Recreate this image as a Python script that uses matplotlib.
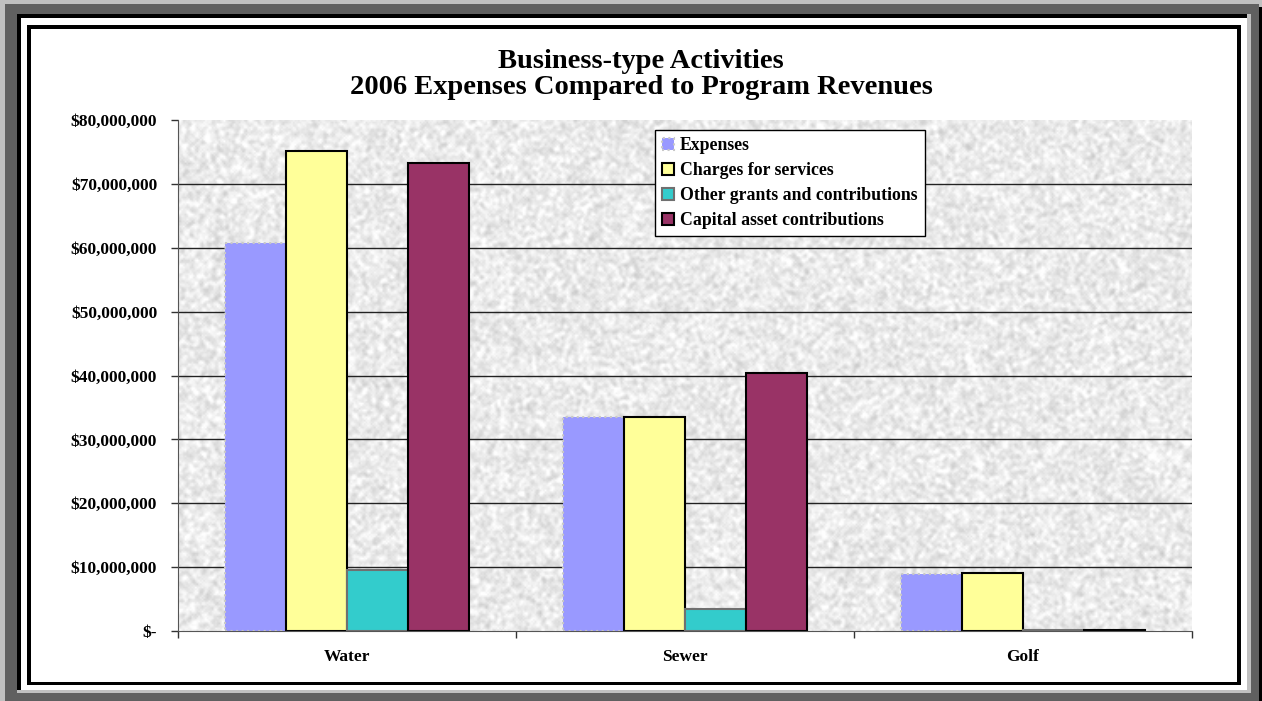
import numpy as np
import matplotlib
matplotlib.use("Agg")
import matplotlib.pyplot as plt
from matplotlib.patches import Rectangle, Patch
from matplotlib.ticker import FuncFormatter

# ---- data -------------------------------------------------------------
categories = ["Water", "Sewer", "Golf"]
series_names = ["Expenses", "Charges for services",
                "Other grants and contributions", "Capital asset contributions"]
expenses = [60.8e6, 33.5e6, 9.0e6]
charges_for_services = [75.1e6, 33.5e6, 9.1e6]
other_grants = [9.5e6, 3.4e6, 0.12e6]
capital_contributions = [73.3e6, 40.4e6, 0.1e6]
y_ticks = [0, 10e6, 20e6, 30e6, 40e6, 50e6, 60e6, 70e6, 80e6]

title_lines = ["Business-type Activities",
               "2006 Expenses Compared to Program Revenues"]

# ---- style --------------------------------------------------------------
W, H = 1262, 701
DPI = 100
serif = ["Liberation Serif", "DejaVu Serif"]
plt.rcParams["font.family"] = serif
plt.rcParams["font.weight"] = "bold"

fill_colors = ["#9999ff", "#ffff99", "#33cccc", "#993366"]
edge_colors = ["#c8c8c8", "#000000", "#707070", "#000000"]
edge_styles = [":", "-", "-", "-"]

fig = plt.figure(figsize=(W / DPI, H / DPI), dpi=DPI, facecolor="white")

# ---- picture frame drawn in pixel coordinates ---------------------------
frame = fig.add_axes([0, 0, 1, 1], zorder=-10)
frame.set_xlim(0, W)
frame.set_ylim(H, 0)
frame.axis("off")

def px_rect(x0, y0, x1, y1, color):
    frame.add_patch(Rectangle((x0, y0), x1 - x0, y1 - y0, facecolor=color,
                              edgecolor="none", linewidth=0))

px_rect(0, 0, W, H, "#c0c0c0")
px_rect(5, 4, 1259, H, "#606060")
px_rect(1259, 7, W, H, "#000000")
px_rect(17, 14, 1251, 693, "#c0c0c0")
px_rect(17, 14, 1247, 690, "#000000")
px_rect(21, 18, 1247, 690, "#ffffff")
px_rect(27, 25, 1241, 685, "#000000")
px_rect(31, 29, 1237, 682, "#ffffff")

# ---- title --------------------------------------------------------------
fig.text(641 / W, 1 - 61 / H, title_lines[0], ha="center", va="center",
         fontsize=20.5, fontweight="bold")
fig.text(641 / W, 1 - 87 / H, title_lines[1], ha="center", va="center",
         fontsize=20.5, fontweight="bold")

# ---- plot area ----------------------------------------------------------
left, right, top, bottom = 178, 1192, 120, 631
ax = fig.add_axes([left / W, 1 - bottom / H, (right - left) / W, (bottom - top) / H])
ax.set_xlim(-0.5, len(categories) - 0.5)
ax.set_ylim(0, 80e6)

# granite-like backdrop texture
rng = np.random.default_rng(7)
noise = rng.random((300, 600))
k = np.ones((3, 3)) / 9.0
pad = np.pad(noise, 1, mode="wrap")
smooth = sum(pad[i:i + 300, j:j + 600] * k[i, j] for i in range(3) for j in range(3))
tex = 0.92 + (smooth - smooth.mean()) * 0.32 + (noise - 0.5) * 0.05
tex = np.clip(tex, 0.76, 1.0)
ax.imshow(tex, cmap="gray", vmin=0, vmax=1, extent=(-0.5, 2.5, 0, 80e6),
          aspect="auto", interpolation="bilinear", zorder=0)

# gridlines (none at the top edge)
for v in y_ticks[1:-1]:
    ax.axhline(v, color="#222222", linewidth=1.0, zorder=1)

x = np.arange(len(categories))
bw = 0.18
all_series = [expenses, charges_for_services, other_grants, capital_contributions]
for i, vals in enumerate(all_series):
    offs = (i - 1.5) * bw
    ax.bar(x + offs, vals, width=bw, color=fill_colors[i],
           edgecolor=edge_colors[i], linestyle=edge_styles[i],
           linewidth=1.5, zorder=3)

# axes styling
for s in ["top", "right"]:
    ax.spines[s].set_visible(False)
ax.spines["left"].set_color("#555555")
ax.spines["bottom"].set_color("#555555")
ax.spines["left"].set_zorder(4)
ax.spines["bottom"].set_zorder(4)

ax.set_yticks(y_ticks)
ax.yaxis.set_major_formatter(FuncFormatter(
    lambda v, p: "$-" if v == 0 else "${:,.0f}".format(v)))
ax.tick_params(axis="y", direction="out", length=5, width=1, color="#333333",
               pad=10, labelsize=12.5)

ax.set_xticks(np.arange(-0.5, len(categories), 1.0), minor=False)
ax.set_xticklabels([])
ax.tick_params(axis="x", which="major", direction="out", length=5, width=1,
               color="#333333")
ax.set_xticks(x, minor=True)
ax.set_xticklabels(categories, minor=True)
ax.tick_params(axis="x", which="minor", length=0, pad=13, labelsize=12.5)

for lab in ax.get_yticklabels() + ax.get_xticklabels(minor=True):
    lab.set_fontweight("bold")

# legend
handles = [Patch(facecolor=fill_colors[i], edgecolor=edge_colors[i],
                 linestyle=edge_styles[i], linewidth=1.5, label=series_names[i])
           for i in range(4)]
leg = ax.legend(handles=handles, loc="upper left",
                bbox_to_anchor=((655 - left) / (right - left), (bottom - 130) / (bottom - top)),
                frameon=True, fancybox=False, framealpha=1, edgecolor="black",
                prop={"family": serif, "weight": "bold", "size": 12.8},
                handlelength=0.65, handleheight=0.65, handletextpad=0.35,
                labelspacing=0.45, borderpad=0.4, borderaxespad=0)
leg.get_frame().set_linewidth(1.0)
leg.set_zorder(6)

fig.savefig("out.png", dpi=DPI, facecolor=fig.get_facecolor())
